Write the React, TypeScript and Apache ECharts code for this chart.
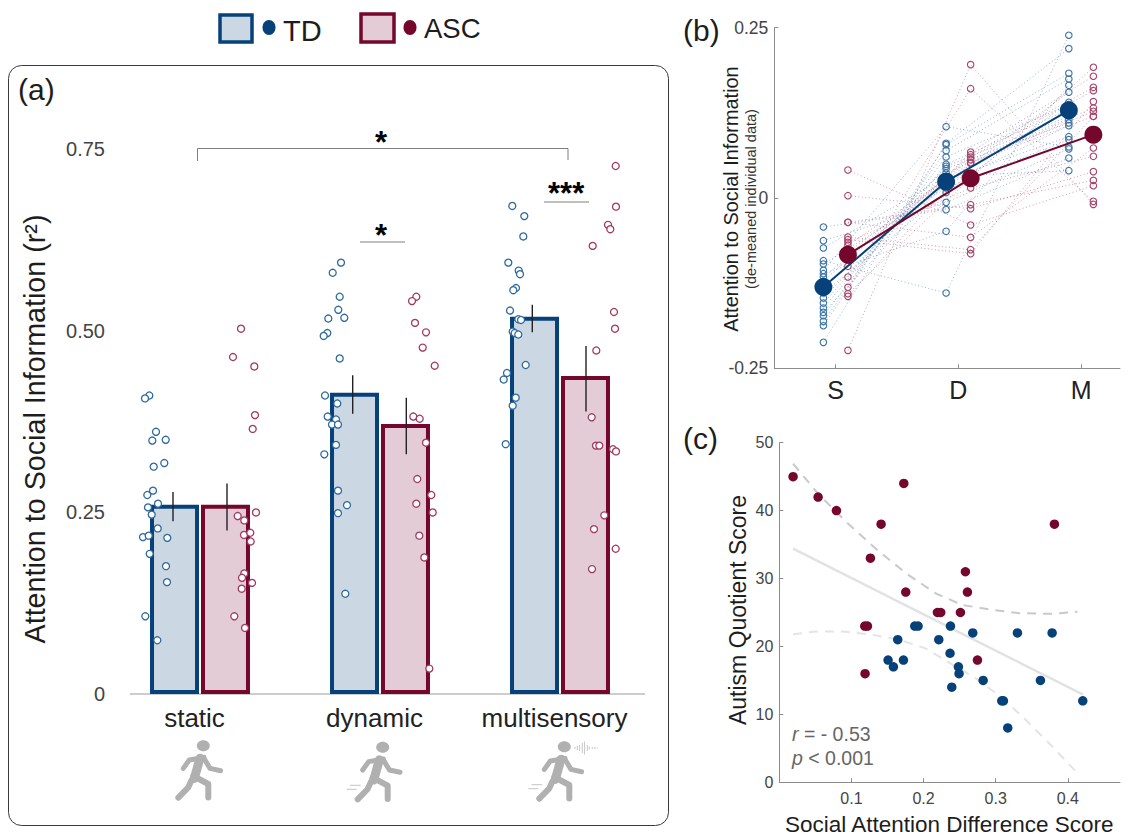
import React, { useEffect, useRef } from "react";
import * as echarts from "echarts";

const FONT = '"Liberation Sans", Arial, sans-serif';
const TD_DARK = "#06417a";
const ASC_DARK = "#75062c";
const TD_FILL = "#cbd8e3";
const ASC_FILL = "#e3ccd5";
const TD_DOT = "#2f6a9c";
const ASC_DOT = "#a03a5f";

// ---------- panel (a) ----------
const conditions = ["static", "dynamic", "multisensory"];
const tdMeans = [0.2606, 0.4148, 0.5195];
const ascMeans = [0.2606, 0.3717, 0.4378];
// error bars: [x on the strip axis, low, high]
const errorBars = [
  [63, 0.238, 0.278],
  [117, 0.225, 0.29],
  [242.7, 0.386, 0.439],
  [296.3, 0.33, 0.408],
  [422.3, 0.498, 0.536],
  [476, 0.389, 0.479],
];
const staticTD = [
  [39.3, 0.411], [35, 0.407], [46, 0.361], [42.3, 0.349], [55.7, 0.35], [54.3, 0.318], [43.7, 0.313],
  [43, 0.28], [37.3, 0.274], [48, 0.262], [38, 0.257], [41.7, 0.247], [47.7, 0.228], [33, 0.216],
  [38.7, 0.218], [57.3, 0.215], [39.7, 0.193], [56, 0.176], [57, 0.154], [35.3, 0.107], [47.3, 0.074],
];
const staticASC = [
  [131, 0.503], [123, 0.464], [144.3, 0.451], [145, 0.384], [142.7, 0.365], [146, 0.25], [127.7, 0.245],
  [134.3, 0.239], [134, 0.219], [140.3, 0.222], [140.7, 0.21], [134.3, 0.166], [132, 0.16], [142, 0.153],
  [131.7, 0.145], [124.3, 0.107], [135, 0.091],
];
const dynamicTD = [
  [231, 0.594], [222.7, 0.58], [229.7, 0.547], [228.3, 0.529], [218.3, 0.517], [234.3, 0.518], [217.3, 0.497],
  [213.7, 0.493], [229.7, 0.462], [215, 0.411], [227.3, 0.4], [217.7, 0.382], [226, 0.378], [222, 0.371],
  [228, 0.371], [226, 0.343], [214.3, 0.33], [228, 0.28], [237, 0.26], [228, 0.249], [235.3, 0.138],
];
const dynamicASC = [
  [306.3, 0.547], [302, 0.541], [305, 0.511], [316, 0.498], [312.7, 0.477], [324.7, 0.452], [303.3, 0.382],
  [309.7, 0.379], [316, 0.346], [307.3, 0.296], [321.3, 0.274], [306.3, 0.262], [322.7, 0.25], [309.3, 0.218],
  [314.3, 0.188], [319.3, 0.035],
];
const multiTD = [
  [402.3, 0.672], [414.3, 0.658], [413.3, 0.63], [398.3, 0.594], [408.7, 0.583], [410, 0.578], [406, 0.559],
  [403.3, 0.556], [400, 0.528], [408.3, 0.516], [411, 0.515], [402.7, 0.499], [404.7, 0.497], [408.3, 0.495],
  [415.7, 0.453], [397, 0.442], [393.7, 0.433], [405.7, 0.408], [402.7, 0.397], [395.7, 0.344],
];
const multiASC = [
  [505.7, 0.727], [506, 0.671], [498, 0.646], [500.3, 0.64], [482.7, 0.617], [504, 0.526], [505, 0.503],
  [486.3, 0.473], [481.7, 0.381], [486, 0.342], [489.3, 0.342], [503, 0.337], [506, 0.334], [494.3, 0.246],
  [484, 0.227], [505.7, 0.2], [482, 0.172],
];

// ---------- panel (b) ----------
const tdS = [-0.0426, -0.0627, -0.0734, -0.092, -0.0969, -0.1062, -0.1111, -0.116, -0.1224, -0.129, -0.1395, -0.1468, -0.1542, -0.1615, -0.1679, -0.1728, -0.1811, -0.1875, -0.2119];
const tdD = [-0.0171, -0.0064, 0.0318, -0.1395, 0.0147, 0.1047, -0.0489, 0.0269, 0.0431, 0.0196, 0.008, 0.0367, 0.0465, 0.0494, 0.023, 0.0602, 0.0695, 0.0783, 0.0803];
const tdM = [0.0587, 0.072, 0.0401, 0.2389, 0.0857, 0.0749, 0.1654, 0.09, 0.1101, 0.1062, 0.1405, 0.115, 0.12, 0.13, 0.1552, 0.137, 0.1747, 0.1831, 0.2193];
const ascS = [0.0411, 0.0034, -0.0357, -0.0357, -0.0573, -0.0612, -0.0651, -0.069, -0.08, -0.09, -0.1003, -0.116, -0.1312, -0.1405, -0.1444, -0.2237];
const ascD = [-0.0396, -0.0157, -0.0098, -0.0578, -0.0759, -0.0817, 0.0147, 0.0514, 0.0563, 0.0602, 0.0636, 0.0675, 0.1605, 0.0294, 0.0514, 0.1958];
const ascM = [0.0181, 0.0387, 0.0259, 0.0734, 0.1199, 0.1415, 0.0612, 0.1273, 0.1322, 0.1576, 0.1625, 0.1787, -0.0049, 0.1919, 0.1199, -0.0093];
const tdGroupMean = [-0.1307, 0.024, 0.1287];
const ascGroupMean = [-0.0832, 0.0289, 0.093];
const blockLabels = ["S", "D", "M"];

// ---------- panel (c) ----------
const corrTD = [
  [0.1878, 23], [0.1924, 23], [0.2373, 23], [0.1642, 21], [0.2211, 21], [0.2682, 22], [0.3301, 22],
  [0.3782, 22], [0.1508, 18], [0.1721, 18], [0.1582, 17], [0.2367, 19], [0.2483, 17], [0.2492, 16],
  [0.2391, 14], [0.2826, 15], [0.362, 15], [0.3084, 12], [0.3107, 12], [0.4207, 12], [0.3167, 8],
];
const corrASC = [
  [0.0191, 45], [0.0538, 42], [0.0792, 40], [0.1411, 38], [0.1263, 33], [0.1726, 44], [0.3814, 38],
  [0.258, 31], [0.1753, 28], [0.2608, 28], [0.2192, 25], [0.2238, 25], [0.2511, 25], [0.1185, 23],
  [0.1222, 23], [0.2747, 18], [0.1189, 16],
];
const fitLine = [[0.0191, 34.4], [0.4211, 12.9]];
const ciUpper = [
  [0.0191, 46.9], [0.0538, 42.5], [0.0922, 38.4], [0.1337, 34.4], [0.1753, 30.8], [0.217, 27.8],
  [0.2539, 26.1], [0.2955, 25.4], [0.3325, 24.9], [0.374, 24.8], [0.4133, 25.1],
];
const ciLower = [
  [0.0191, 21.8], [0.0505, 22.2], [0.0875, 22.2], [0.1245, 21.8], [0.1661, 21], [0.203, 19.7],
  [0.2405, 17.3], [0.2725, 15.3], [0.3092, 12.4], [0.3416, 9.2], [0.3786, 5.25], [0.4156, 1.1],
];

// ---------- helpers ----------
const strip = (data: number[][], color: string) => ({
  type: "scatter",
  xAxisIndex: 1,
  yAxisIndex: 0,
  data,
  symbol: "circle",
  symbolSize: 7,
  z: 4,
  itemStyle: { color: "#ffffff", borderColor: color, borderWidth: 1.3, opacity: 1 },
});

const bar = (name: string, data: number[], fill: string, border: string) => ({
  name,
  type: "bar",
  xAxisIndex: 0,
  yAxisIndex: 0,
  data,
  barWidth: 49,
  barGap: "4%",
  z: 2,
  itemStyle: { color: fill, borderColor: border, borderWidth: 4 },
});

const people = (s: number[], d: number[], m: number[], offset: number, color: string) =>
  s.map((_, i) => ({
    type: "line",
    xAxisIndex: 2,
    yAxisIndex: 1,
    data: [
      [1 + offset, s[i]],
      [2 + offset, d[i]],
      [3 + offset, m[i]],
    ],
    symbol: "circle",
    symbolSize: 6.5,
    showSymbol: true,
    z: 3,
    lineStyle: { color, width: 0.9, type: [1, 2.5], opacity: 0.6 },
    itemStyle: { color: "rgba(255,255,255,0)", borderColor: color, borderWidth: 1.1 },
  }));

const groupMean = (vals: number[], offset: number, color: string) => ({
  type: "line",
  xAxisIndex: 2,
  yAxisIndex: 1,
  data: vals.map((v, i) => [i + 1 + offset, v]),
  symbol: "circle",
  symbolSize: 18,
  z: 6,
  lineStyle: { color, width: 2 },
  itemStyle: { color },
});

const curve = (data: number[][], color: string, width: number, type: any) => ({
  type: "line",
  xAxisIndex: 3,
  yAxisIndex: 2,
  data,
  showSymbol: false,
  symbol: "none",
  z: 2,
  lineStyle: { color, width, type },
});

const corrDots = (data: number[][], color: string) => ({
  type: "scatter",
  xAxisIndex: 3,
  yAxisIndex: 2,
  data,
  symbol: "circle",
  symbolSize: 9.5,
  z: 4,
  itemStyle: { color, opacity: 1 },
});

const limb = (pts: number[][], w: number) => ({
  type: "polyline",
  shape: { points: pts },
  style: { stroke: "#b0b0b0", lineWidth: w, fill: "none", lineCap: "round", lineJoin: "round" },
});

const walker = (x: number, y: number, extras: any[] = []) => ({
  type: "group",
  x,
  y,
  children: [
    { type: "ellipse", shape: { cx: 0, cy: 0, rx: 6.5, ry: 5.5 }, style: { fill: "#b0b0b0" } },
    limb([[-3.3, 12.5], [-9, 32.7]], 9),
    limb([[0.7, 11.7], [-14, 14.3], [-20, 22.7]], 5),
    limb([[1.7, 14.3], [6.7, 22.7], [17.3, 25]], 5),
    limb([[-10, 30.3], [5, 38.3], [5, 51.7]], 6),
    limb([[-11.7, 34.3], [-15, 41.7], [-25, 52]], 6),
    ...extras,
  ],
});

const thin = (x1: number, y1: number, x2: number, y2: number, color = "#c4c4c4", w = 1) => ({
  type: "line",
  shape: { x1, y1, x2, y2 },
  style: { stroke: color, lineWidth: w },
});

const speedLines = [thin(-32.7, 38, -22, 38), thin(-36, 42, -26, 42)];
const soundWave = [
  [10.7, 1], [13, 2], [15.3, 3], [18, 5], [20.3, 6.5], [23, 3], [25, 1.5], [28, 1], [30.5, 1], [33, 0.7],
].map(([x, h]) => thin(x, 1.3 - h, x, 1.3 + h, "#bdbdbd", 0.9));

const label = (text: string, x: number, y: number, size: number, extra: any = {}) => ({
  type: "text",
  x,
  y,
  z: 20,
  style: { text, fontFamily: FONT, fontSize: size, fill: "#1d1d1d", ...extra },
});

const rotated = (text: string, x: number, y: number, size: number, fill = "#1d1d1d") => ({
  type: "text",
  x,
  y,
  rotation: Math.PI / 2,
  z: 20,
  style: { text, fontFamily: FONT, fontSize: size, fill, align: "center", verticalAlign: "middle" },
});

const rule = (x1: number, y1: number, x2: number, y2: number) => ({
  type: "line",
  z: 10,
  shape: { x1, y1, x2, y2 },
  style: { stroke: "#7f7f7f", lineWidth: 1 },
});

const axisGray = "#8c8c8c";

function buildOption(): any {
  return {
    animation: false,
    backgroundColor: "#ffffff",
    textStyle: { fontFamily: FONT },
    grid: [
      { left: 110, top: 149.3, width: 540, height: 544.7 },
      { left: 774.3, top: 27.7, width: 345.7, height: 340.6 },
      { left: 779.3, top: 442.7, width: 340.7, height: 339.6 },
    ],
    xAxis: [
      {
        type: "category",
        gridIndex: 0,
        data: conditions,
        axisLine: { show: false },
        axisTick: { show: false },
        axisLabel: { interval: 0, fontSize: 26, color: "#222", margin: 11, padding: [0, 11, 0, 0], fontFamily: FONT },
      },
      { type: "value", gridIndex: 0, min: 0, max: 540, show: false },
      {
        type: "value",
        gridIndex: 1,
        min: 0.5,
        max: 3.317,
        splitLine: { show: false },
        axisLine: { onZero: false, lineStyle: { color: axisGray, width: 1 } },
        axisTick: { inside: true, length: 4, lineStyle: { color: axisGray }, customValues: [1, 2, 3] },
        axisLabel: {
          fontSize: 25,
          color: "#222",
          margin: 9,
          fontFamily: FONT,
          customValues: [1, 2, 3],
          formatter: (v: number) => blockLabels[Math.round(v) - 1] ?? "",
        },
      },
      {
        type: "value",
        gridIndex: 2,
        min: 0,
        max: 0.4723,
        splitLine: { show: false },
        axisLine: { onZero: false, lineStyle: { color: axisGray, width: 1 } },
        axisTick: { inside: true, length: 4, lineStyle: { color: axisGray }, customValues: [0.1, 0.2, 0.3, 0.4] },
        axisLabel: {
          fontSize: 16,
          color: "#444",
          margin: 8,
          fontFamily: FONT,
          customValues: [0.1, 0.2, 0.3, 0.4],
          formatter: (v: number) => v.toFixed(1),
        },
      },
    ],
    yAxis: [
      {
        type: "value",
        gridIndex: 0,
        min: 0,
        max: 0.75,
        interval: 0.25,
        splitLine: { show: false },
        axisLine: { show: false },
        axisTick: { show: false },
        axisLabel: {
          fontSize: 20,
          color: "#444",
          margin: 5,
          fontFamily: FONT,
          formatter: (v: number) => (v === 0 ? "0" : v.toFixed(2)),
        },
      },
      {
        type: "value",
        gridIndex: 1,
        min: -0.25,
        max: 0.25,
        interval: 0.25,
        splitLine: { show: false },
        axisLine: { lineStyle: { color: axisGray, width: 1 } },
        axisTick: { show: true, inside: true, length: 4, lineStyle: { color: axisGray } },
        axisLabel: {
          fontSize: 17.5,
          color: "#444",
          margin: 6,
          fontFamily: FONT,
          formatter: (v: number) => (v === 0 ? "0" : v.toFixed(2)),
        },
      },
      {
        type: "value",
        gridIndex: 2,
        min: 0,
        max: 50,
        interval: 10,
        splitLine: { show: false },
        axisLine: { lineStyle: { color: axisGray, width: 1 } },
        axisTick: { show: true, inside: true, length: 4, lineStyle: { color: axisGray } },
        axisLabel: { fontSize: 16, color: "#444", margin: 6, fontFamily: FONT },
      },
    ],
    series: [
      bar("TD", tdMeans, TD_FILL, TD_DARK),
      bar("ASC", ascMeans, ASC_FILL, ASC_DARK),
      strip(staticTD, TD_DOT),
      strip(dynamicTD, TD_DOT),
      strip(multiTD, TD_DOT),
      strip(staticASC, ASC_DOT),
      strip(dynamicASC, ASC_DOT),
      strip(multiASC, ASC_DOT),
      {
        type: "custom",
        xAxisIndex: 1,
        yAxisIndex: 0,
        data: errorBars,
        z: 5,
        encode: { x: 0, y: [1, 2] },
        renderItem: (_: any, api: any) => {
          const a = api.coord([api.value(0), api.value(1)]);
          const b = api.coord([api.value(0), api.value(2)]);
          return {
            type: "line",
            shape: { x1: a[0], y1: a[1], x2: b[0], y2: b[1] },
            style: { stroke: "#222222", lineWidth: 1.4 },
          };
        },
      },
      ...people(tdS, tdD, tdM, -0.1, "#3a74a6"),
      ...people(ascS, ascD, ascM, 0.1, "#a8446a"),
      groupMean(tdGroupMean, -0.1, TD_DARK),
      groupMean(ascGroupMean, 0.1, ASC_DARK),
      curve(fitLine, "#e2e2e2", 2.5, "solid"),
      curve(ciUpper, "#c9c9c9", 2, [9, 7]),
      curve(ciLower, "#e4e4e4", 2, [9, 7]),
      corrDots(corrTD, TD_DARK),
      corrDots(corrASC, ASC_DARK),
    ],
    graphic: {
      elements: [
        {
          type: "rect",
          z: -1,
          shape: { x: 8.5, y: 65.5, width: 660, height: 760, r: 13 },
          style: { fill: "none", stroke: "#3a3a3a", lineWidth: 1 },
        },
        // legend
        { type: "rect", shape: { x: 220, y: 15, width: 32, height: 27 }, style: { fill: TD_FILL, stroke: TD_DARK, lineWidth: 3.5 } },
        { type: "ellipse", shape: { cx: 269, cy: 27.5, rx: 6.5, ry: 7.5 }, style: { fill: TD_DARK } },
        label("TD", 283, 16, 29),
        { type: "rect", shape: { x: 361, y: 14, width: 33, height: 28 }, style: { fill: ASC_FILL, stroke: ASC_DARK, lineWidth: 3.5 } },
        { type: "ellipse", shape: { cx: 410, cy: 27.5, rx: 6.5, ry: 7.5 }, style: { fill: ASC_DARK } },
        label("ASC", 424, 14, 27.5),
        // panel letters
        label("(a)", 18, 74, 30),
        label("(b)", 683, 15, 30),
        label("(c)", 683, 423, 30),
        // baseline of panel (a)
        {
          type: "line",
          z: 1,
          shape: { x1: 130, y1: 694, x2: 645, y2: 694 },
          style: { stroke: "#bdbdbd", lineWidth: 1.5 },
        },
        // significance marks
        rule(197.5, 148.5, 568, 148.5),
        rule(197.5, 148.5, 197.5, 161),
        rule(568, 148.5, 568, 160),
        rule(360, 242, 405, 242),
        rule(544, 202, 589, 202),
        label("*", 375, 127, 31, { fontWeight: "bold", fill: "#000" }),
        label("*", 375, 220, 31, { fontWeight: "bold", fill: "#000" }),
        label("***", 548, 178, 31, { fontWeight: "bold", fill: "#000" }),
        // walking figures
        walker(203.3, 745.7),
        walker(382.7, 747.3, speedLines),
        walker(564.3, 746.7, [...speedLines, ...soundWave]),
        // axis titles
        rotated("Attention to Social Information (r²)", 35, 429, 28.7),
        rotated("Attention to Social Information", 731, 199, 19.9),
        rotated("(de-meaned individual data)", 751, 199, 14.5, "#333"),
        rotated("Autism Quotient Score", 738, 610, 23),
        label("Social Attention Difference Score", 785, 813, 22.5),
        // statistics
        {
          type: "text",
          x: 792,
          y: 724,
          z: 20,
          style: {
            text: "{i|r} = - 0.53",
            fontFamily: FONT,
            fontSize: 19.5,
            fill: "#666",
            rich: { i: { fontStyle: "italic", fontSize: 19.5, fill: "#666", fontFamily: FONT } },
          },
        },
        {
          type: "text",
          x: 792,
          y: 747.5,
          z: 20,
          style: {
            text: "{i|p} < 0.001",
            fontFamily: FONT,
            fontSize: 19.5,
            fill: "#666",
            rich: { i: { fontStyle: "italic", fontSize: 19.5, fill: "#666", fontFamily: FONT } },
          },
        },
      ],
    },
  };
}

export default function App() {
  const ref = useRef<HTMLDivElement>(null);
  useEffect(() => {
    document.body.style.margin = "0";
    const chart = echarts.init(ref.current!, null, { renderer: "svg" });
    chart.setOption(buildOption());
    return () => chart.dispose();
  }, []);
  return <div ref={ref} style={{ position: "absolute", left: 0, top: 0, width: 1135, height: 836 }} />;
}
